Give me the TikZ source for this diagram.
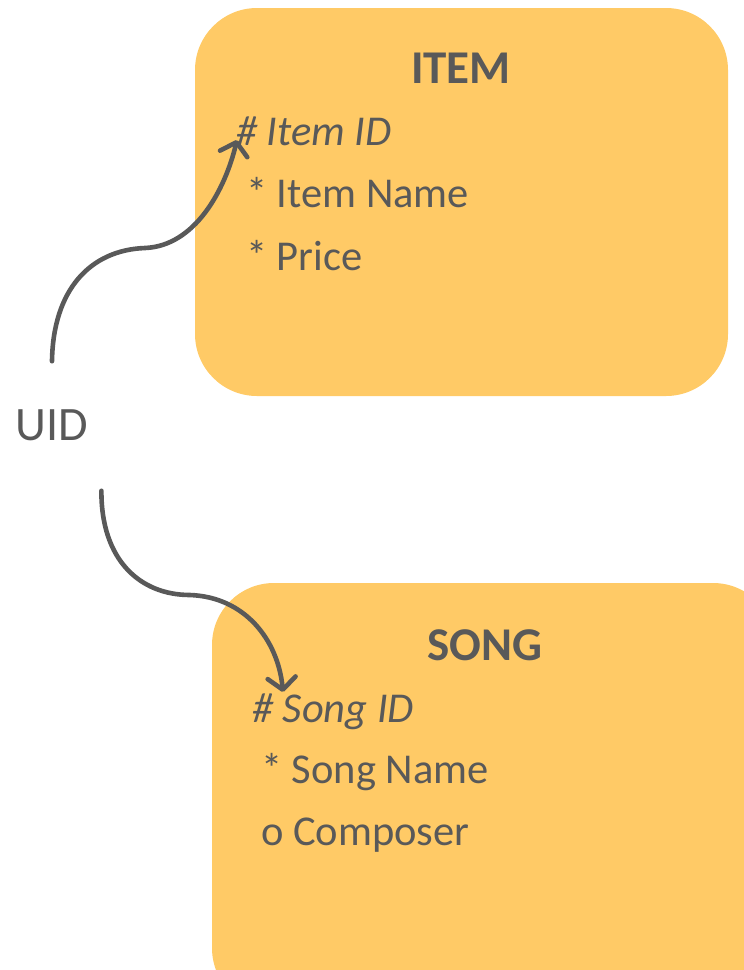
\documentclass[tikz,border=0pt]{standalone}
\usepackage{fontspec}
\setmainfont{Carlito}
\usepackage{tikz}
\usetikzlibrary{positioning,calc,arrows.meta}
\definecolor{entfill}{HTML}{FFCA66}
\definecolor{inkgrey}{HTML}{595959}

\begin{document}
\begin{tikzpicture}[x=1pt,y=-1pt,
    entity/.style={fill=entfill, rounded corners=62pt},
    title/.style={text=inkgrey, inner sep=0pt, font=\fontsize{47}{52}\selectfont\bfseries},
    field/.style={text=inkgrey, anchor=base west, inner sep=0pt, font=\fontsize{42.5}{50}\selectfont},
    link/.style={inkgrey, line width=4.6pt, line cap=round,
        -{Straight Barb[length=12pt,width=28pt,round]}}]
    \useasboundingbox (0,0) rectangle (744,970);
    \clip (0,0) rectangle (744,970);

    % Entities
    \fill[entity] (195,8) rectangle (728,396);
    \fill[entity] (212,583) rectangle (775,1010);

    \node[title] (item) at (461,68) {ITEM};
    \node[title] (song) at (485,645) {SONG};

    % Attributes
    \node[field, font=\fontsize{42.5}{50}\selectfont\itshape] (itemkey) at (236,145) {\# Item ID};
    \foreach \y/\txt [count=\i] in {207/* Item Name, 270/* Price} {
        \node[field] (itemf\i) at (246,\y) {\txt};
    }
    \node[field, font=\fontsize{42.5}{50}\selectfont\itshape] (songkey) at (252,722) {\# Song ID};
    \foreach \y/\x/\txt [count=\i] in {783/261/* Song Name, 845/261/o Composer} {
        \node[field] (songf\i) at (\x,\y) {\txt};
    }

    % Shared identifier
    \node[text=inkgrey, inner sep=0pt, font=\fontsize{48}{54}\selectfont] (uid) at (52,425) {UID};

    \draw[link] ([yshift=48pt]uid.north) .. controls (53,290) and (90,250) .. (145,248)
        .. controls (195,246) and (225,190) .. ([shift={(1pt,5pt)}]itemkey.base west);
    \draw[link] ([shift={(13pt,-50pt)}]uid.south east) .. controls (101,560) and (140,595) .. (190,595)
        .. controls (245,597) and (278,640) .. ([shift={(31pt,30pt)}]songkey.base west);
\end{tikzpicture}
\end{document}
